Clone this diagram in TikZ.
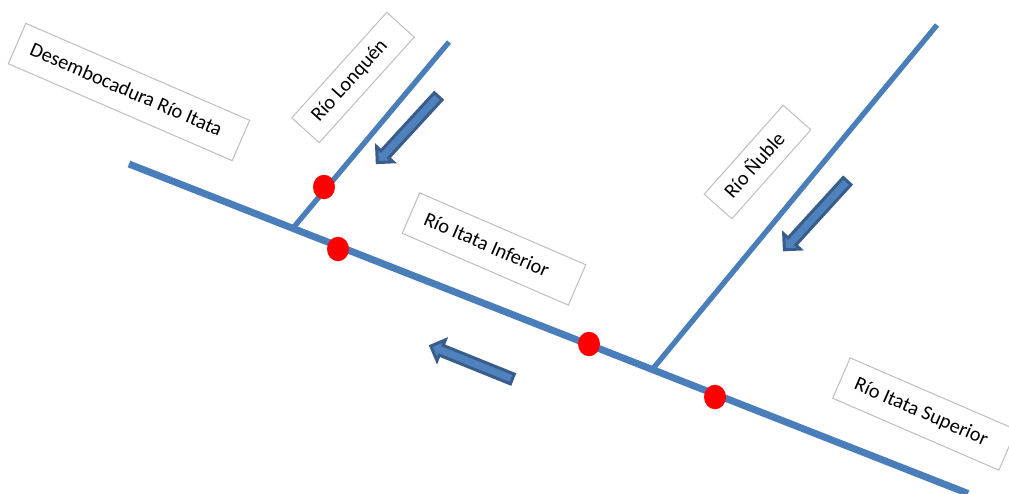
\documentclass[tikz,border=0pt]{standalone}
\usepackage{fontspec}
\setmainfont{Carlito}
\usetikzlibrary{shapes.geometric,shapes.arrows}
\definecolor{river}{HTML}{4A7EBB}
\definecolor{arrowfill}{HTML}{4F81BD}
\definecolor{arrowedge}{HTML}{385D8A}
\definecolor{boxedge}{HTML}{BEBEBE}
\newcommand{\boxtext}[2]{\makebox[#1][l]{\hspace{15pt}\raisebox{3pt}{#2}}}
\tikzset{
  labelbox/.style={draw=boxedge,line width=1pt,fill=white,inner sep=0pt,minimum height=#1,font=\fontsize{20.3}{22}\selectfont},
  mainriver/.style={draw=river,line width=7pt},
  tributary/.style={draw=river,line width=5.3pt},
  gauge/.style={ellipse,fill=red,inner sep=0pt,minimum width=22pt,minimum height=24.5pt},
  flowarrow/.style={single arrow,draw=arrowedge,fill=arrowfill,line width=3pt,inner sep=0pt,
    minimum width=0pt,single arrow head extend=6pt,single arrow tip angle=90,anchor=center}
}
\begin{document}
\begin{tikzpicture}[x=1pt,y=-1pt]
\path[use as bounding box,clip] (0,0) rectangle (1009,493);
% river coordinates
\coordinate (mainA) at (129,164);
\coordinate (mainB) at (968,493.5);
\coordinate (lonA) at (293,228);
\coordinate (lonB) at (449,42);
\coordinate (nubA) at (651,371);
\coordinate (nubB) at (937,25);
\draw[tributary] (lonA) -- (lonB);
\draw[tributary] (nubA) -- (nubB);
\draw[mainriver] (mainA) -- (mainB);
% gauges
\node[gauge] (g1) at (324,187) {};
\node[gauge] (g2) at (338,249) {};
\node[gauge] (g3) at (589,344) {};
\node[gauge] (g4) at (715,397) {};
% labels
\node[labelbox=44pt,rotate=-23.4] (desemb) at (129,92) {\boxtext{244pt}{Desembocadura Río Itata}};
\node[labelbox=37pt,rotate=48] (lonq) at (353,77.5) {\boxtext{142pt}{Río Lonquén}};
\node[labelbox=44pt,rotate=-23.4] (inf) at (494,249) {\boxtext{181pt}{Río Itata Inferior}};
\node[labelbox=37pt,rotate=48.4] (nub) at (757.5,162) {\boxtext{119pt}{Río Ñuble}};
\node[labelbox=44pt,rotate=-23.4] (sup) at (924.5,414) {\boxtext{181pt}{Río Itata Superior}};
% flow arrows
\node[flowarrow,minimum height=90pt,rotate=227.4] (f1) at (409.5,127.5) {\rule{0pt}{7.5pt}};
\node[flowarrow,minimum height=93pt,rotate=227.6] (f2) at (817.5,213.5) {\rule{0pt}{7.5pt}};
\node[flowarrow,minimum height=88pt,rotate=158] (f3) at (474,363.5) {\rule{0pt}{7.5pt}};
\end{tikzpicture}
\end{document}
